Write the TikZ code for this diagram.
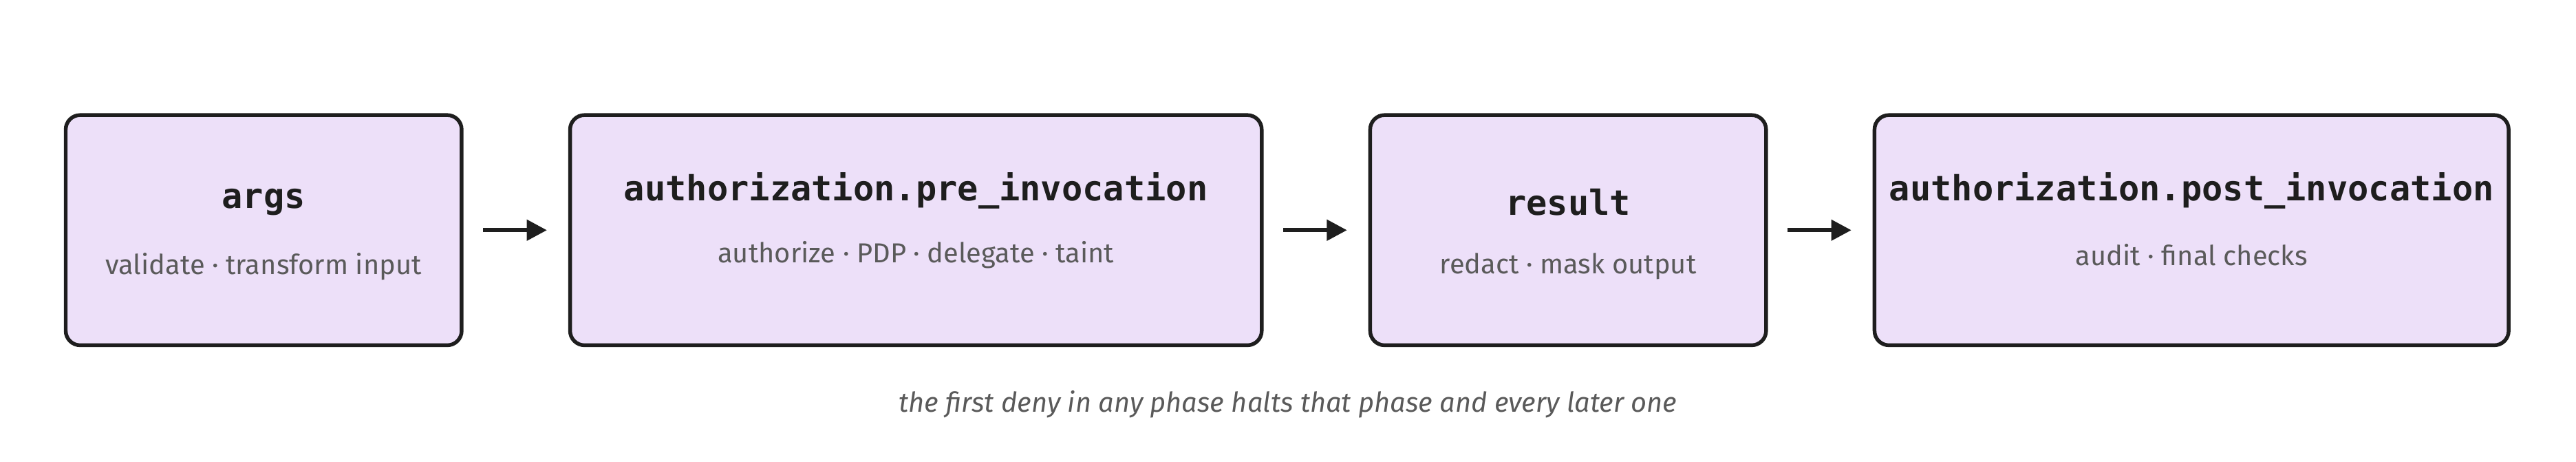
\documentclass[tikz,border=0pt]{standalone}
\usepackage{fontspec}
\setmainfont{Fira Sans}
\newfontfamily\monob{DejaVu Sans Mono}
\usetikzlibrary{arrows.meta}
\definecolor{boxfill}{HTML}{EDE0F9}
\definecolor{boxline}{HTML}{1E1E1E}
\definecolor{subtxt}{HTML}{5A5A5A}
\begin{document}
\begin{tikzpicture}[x=0.02cm,y=-0.02cm,
  box/.style={draw=boxline,line width=1.3pt,fill=boxfill,rounded corners=5pt},
  ttl/.style={font=\monob\bfseries\fontsize{12}{14}\selectfont,text=boxline},
  sub/.style={font=\fontsize{9.5}{11}\selectfont,text=subtxt},
  arr/.style={-{Triangle[length=7pt,width=7pt]},line width=1.5pt,draw=boxline}]
\useasboundingbox (0,0) rectangle (1568,281);
\draw[box] (40,70) rectangle (281,210); \coordinate (b1l) at (40,140); \coordinate (b1r) at (281,140);
\draw[box] (347,70) rectangle (768,210); \coordinate (b2l) at (347,140); \coordinate (b2r) at (768,140);
\draw[box] (834,70) rectangle (1075,210); \coordinate (b3l) at (834,140); \coordinate (b3r) at (1075,140);
\draw[box] (1141,70) rectangle (1527,210); \coordinate (b4l) at (1141,140);
\node[ttl] (t1) at (160.5,123) {args};
\node[sub] (s1) at (160.5,162) {validate · transform input};
\node[ttl] (t2) at (557.5,116) {authorization.pre\_invocation};
\node[sub] (s2) at (557.5,155) {authorize · PDP · delegate · taint};
\node[ttl] (t3) at (954.5,123) {result};
\node[sub] (s3) at (954.5,162) {redact · mask output};
\node[ttl] (t4) at (1334,116) {authorization.post\_invocation};
\node[sub] (s4) at (1334,155) {audit · final checks};
\draw[arr] ([xshift=5\pgflinewidth]b1r) -- ([xshift=-8pt]b2l);
\draw[arr] ([xshift=5\pgflinewidth]b2r) -- ([xshift=-8pt]b3l);
\draw[arr] ([xshift=5\pgflinewidth]b3r) -- ([xshift=-8pt]b4l);
\node[sub,font=\itshape\fontsize{9.5}{11}\selectfont] (cap) at (784,246) {the first deny in any phase halts that phase and every later one};
\end{tikzpicture}
\end{document}
